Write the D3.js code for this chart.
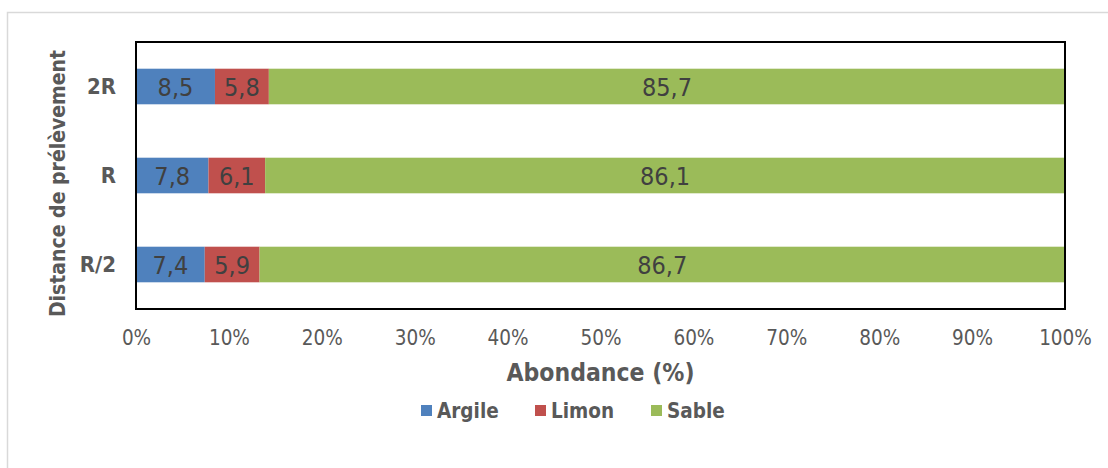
<!DOCTYPE html>
<html><head><meta charset="utf-8">
<script src="https://cdn.jsdelivr.net/npm/d3@7"></script>
<style>
body{margin:0;background:#fff;}
text{font-family:"DejaVu Sans Condensed","DejaVu Sans",sans-serif;font-stretch:condensed;}
</style></head>
<body><svg id="c" width="1108" height="468"></svg>
<script>
const categories = ["2R", "R", "R/2"];
const seriesNames = ["Argile", "Limon", "Sable"];
const argile = [8.5, 7.8, 7.4];
const limon = [5.8, 6.1, 5.9];
const sable = [85.7, 86.1, 86.7];
const colors = ["#4F81BD", "#C0504D", "#9BBB59"];
const xTicks = [0,10,20,30,40,50,60,70,80,90,100];

const svg = d3.select("#c");
svg.append("rect").attr("x",7.5).attr("y",12.5).attr("width",1200).attr("height",600)
  .attr("fill","#fff").attr("stroke","#d9d9d9").attr("stroke-width",1.5);

const m = {l:136, r:1065, t:42, b:309};
const x = d3.scaleLinear().domain([0,100]).range([m.l, m.r]);
const y = d3.scaleBand().domain(categories).range([m.t, m.b]).paddingInner(0.6).paddingOuter(0.3);

const table = categories.map((c,i)=>({cat:c, vals:[argile[i], limon[i], sable[i]]}));
const stackData = table.map(d=>{
  const tot = d3.sum(d.vals); let acc=0;
  return {cat:d.cat, segs:d.vals.map((v,j)=>{const s={j, v, x0:acc/tot*100, x1:(acc+v)/tot*100}; acc+=v; return s;})};
});

const g = svg.append("g");
stackData.forEach(d=>{
  d.segs.forEach(s=>{
    g.append("rect").attr("x",x(s.x0)).attr("y",y(d.cat)).attr("width",x(s.x1)-x(s.x0))
      .attr("height",y.bandwidth()).attr("fill",colors[s.j]);
    g.append("text").attr("x",(x(s.x0)+x(s.x1))/2).attr("y",y(d.cat)+y.bandwidth()/2)
      .attr("dy","0.36em").attr("text-anchor","middle").attr("fill","#404040")
      .attr("font-size",25).text(String(s.v).replace(".",","));
  });
});

svg.append("rect").attr("x",m.l).attr("y",m.t).attr("width",m.r-m.l).attr("height",m.b-m.t)
  .attr("fill","none").attr("stroke","#000").attr("stroke-width",2);

// x axis
const xa = svg.append("g").attr("transform",`translate(0,${m.b})`)
  .call(d3.axisBottom(x).tickValues(xTicks).tickFormat(d=>d+"%").tickSize(0).tickPadding(21));
xa.select(".domain").remove();
xa.selectAll("text").attr("font-size",20.5).attr("fill","#595959").attr("font-family","DejaVu Sans Condensed, DejaVu Sans, sans-serif");

// y axis
const ya = svg.append("g").attr("transform",`translate(${m.l},0)`)
  .call(d3.axisLeft(y).tickSize(0).tickPadding(20));
ya.select(".domain").remove();
ya.selectAll("text").attr("font-size",22).attr("font-weight","bold").attr("fill","#595959").attr("font-family","DejaVu Sans Condensed, DejaVu Sans, sans-serif");

svg.append("text").attr("x",(m.l+m.r)/2).attr("y",372).attr("dy","0.36em").attr("text-anchor","middle")
  .attr("font-size",24.5).attr("font-weight","bold").attr("fill","#595959").text("Abondance (%)");
svg.append("text").attr("transform",`translate(57,${(m.t+m.b)/2+8}) rotate(-90)`).attr("dy","0.36em")
  .attr("text-anchor","middle").attr("font-size",21).attr("font-weight","bold").attr("fill","#595959")
  .text("Distance de prélèvement");

// legend
const legX = [421, 535, 651];
seriesNames.forEach((n,i)=>{
  svg.append("rect").attr("x",legX[i]).attr("y",405).attr("width",11).attr("height",11).attr("fill",colors[i]);
  svg.append("text").attr("x",legX[i]+16).attr("y",411).attr("dy","0.36em").attr("font-size",20.5)
    .attr("font-weight","bold").attr("fill","#595959").text(n);
});
</script></body></html>
